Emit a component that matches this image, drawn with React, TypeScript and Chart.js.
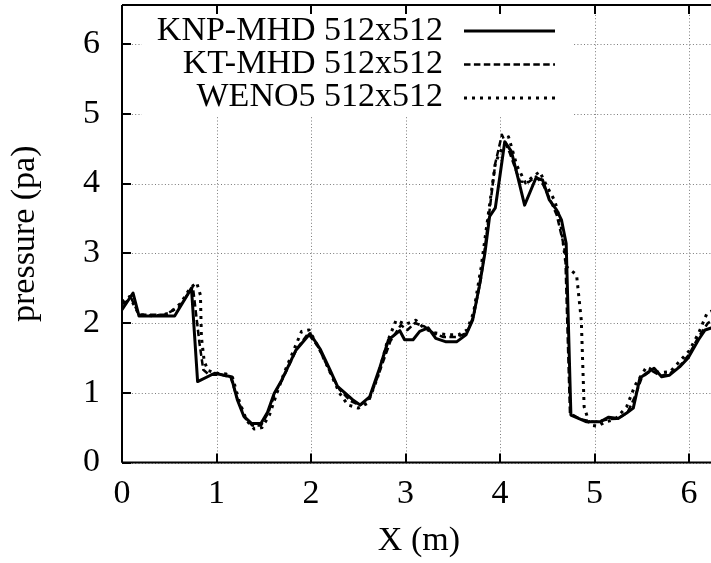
import React, { useEffect, useRef } from "react";
import { Chart, registerables } from "chart.js";

Chart.register(...registerables);

const X_MIN = 0;
const X_MAX = 2 * Math.PI;
const Y_MIN = 0;
const Y_MAX = 6.56;

const seriesLabels = ["KNP-MHD 512x512", "KT-MHD 512x512", "WENO5 512x512"];
const xTitle = "X (m)";
const yTitle = "pressure (pa)";

// KNP-MHD (solid)
const knpX = [0, 0.117, 0.18, 0.557, 0.735, 0.8, 0.98, 1.155, 1.22, 1.29, 1.37, 1.47, 1.54, 1.61, 1.69, 1.84, 1.99, 2.1, 2.2, 2.28, 2.44, 2.52, 2.62, 2.73, 2.82, 2.94, 2.99, 3.08, 3.15, 3.24, 3.32, 3.43, 3.54, 3.64, 3.71, 3.78, 3.84, 3.89, 3.95, 4.0, 4.05, 4.12, 4.19, 4.26, 4.38, 4.45, 4.52, 4.6, 4.65, 4.7, 4.75, 4.91, 5.06, 5.15, 5.25, 5.34, 5.41, 5.48, 5.55, 5.63, 5.71, 5.79, 5.9, 5.99, 6.1, 6.17, 6.2832];
const knpY = [2.19, 2.43, 2.1, 2.1, 2.5, 1.16, 1.28, 1.23, 0.9, 0.66, 0.56, 0.56, 0.72, 0.99, 1.18, 1.61, 1.85, 1.62, 1.33, 1.09, 0.9, 0.825, 0.94, 1.37, 1.76, 1.89, 1.76, 1.76, 1.88, 1.93, 1.78, 1.73, 1.73, 1.83, 2.04, 2.52, 3.0, 3.53, 3.65, 4.12, 4.6, 4.46, 4.08, 3.69, 4.08, 4.05, 3.77, 3.62, 3.48, 3.14, 0.68, 0.585, 0.585, 0.65, 0.63, 0.71, 0.78, 1.21, 1.28, 1.35, 1.23, 1.25, 1.37, 1.5, 1.76, 1.9, 1.95];

// KT-MHD (dashed)
const ktX = [0, 0.1, 0.18, 0.3, 0.45, 0.6, 0.75, 0.82, 0.86, 0.92, 1.05, 1.15, 1.22, 1.3, 1.38, 1.47, 1.55, 1.62, 1.7, 1.85, 1.97, 2.08, 2.2, 2.3, 2.42, 2.52, 2.62, 2.73, 2.84, 2.95, 3.02, 3.1, 3.2, 3.3, 3.4, 3.55, 3.65, 3.72, 3.8, 3.87, 3.95, 4.02, 4.1, 4.21, 4.3, 4.38, 4.45, 4.52, 4.6, 4.66, 4.69, 4.74, 4.85, 5.0, 5.15, 5.25, 5.35, 5.43, 5.5, 5.6, 5.7, 5.8, 5.9, 6.0, 6.1, 6.2, 6.2832];
const ktY = [2.27, 2.35, 2.12, 2.12, 2.12, 2.22, 2.52, 1.71, 1.33, 1.26, 1.26, 1.22, 0.92, 0.64, 0.53, 0.53, 0.72, 1.0, 1.2, 1.63, 1.85, 1.65, 1.3, 1.05, 0.88, 0.82, 0.92, 1.32, 1.74, 1.97, 1.9, 2.0, 1.95, 1.85, 1.8, 1.8, 1.86, 2.1, 2.65, 3.4, 4.29, 4.7, 4.45, 4.03, 4.02, 4.1, 4.0, 3.8, 3.55, 3.2, 3.0, 0.71, 0.62, 0.58, 0.62, 0.63, 0.72, 0.95, 1.22, 1.32, 1.24, 1.28, 1.38, 1.55, 1.8, 2.0, 2.07];

// WENO5 (dotted)
const wenoX = [0, 0.08, 0.18, 0.35, 0.5, 0.62, 0.72, 0.79, 0.83, 0.84, 0.87, 0.91, 1.0, 1.1, 1.17, 1.24, 1.32, 1.4, 1.48, 1.56, 1.64, 1.72, 1.82, 1.9, 1.98, 2.08, 2.2, 2.3, 2.39, 2.5, 2.6, 2.7, 2.8, 2.9, 3.0, 3.11, 3.2, 3.3, 3.45, 3.56, 3.65, 3.72, 3.8, 3.88, 3.95, 4.0, 4.09, 4.18, 4.27, 4.35, 4.42, 4.5, 4.58, 4.64, 4.7, 4.81, 4.86, 4.89, 4.95, 5.03, 5.12, 5.22, 5.34, 5.43, 5.55, 5.65, 5.71, 5.8, 5.9, 6.0, 6.1, 6.19, 6.2832];
const wenoY = [2.3, 2.38, 2.12, 2.1, 2.14, 2.28, 2.5, 2.58, 2.4, 1.8, 1.45, 1.32, 1.28, 1.27, 1.22, 0.88, 0.6, 0.48, 0.5, 0.68, 1.0, 1.3, 1.62, 1.88, 1.9, 1.65, 1.3, 1.0, 0.825, 0.78, 0.85, 1.2, 1.7, 2.04, 1.98, 2.04, 1.92, 1.86, 1.83, 1.83, 1.9, 2.15, 2.8, 3.6, 4.29, 4.45, 4.67, 4.25, 4.01, 4.1, 4.17, 3.95, 3.75, 3.45, 2.81, 2.69, 2.04, 0.8, 0.54, 0.52, 0.585, 0.62, 0.8, 1.11, 1.37, 1.3, 1.29, 1.3, 1.45, 1.6, 1.85, 2.14, 2.2];

const FONT = "'Liberation Serif', 'DejaVu Serif', serif";
const FONT_SIZE = 34;

const toPoints = (xs: number[], ys: number[]) => xs.map((x, i) => ({ x, y: ys[i] }));

const framePlugin = {
  id: "gnuplotFrame",
  beforeDatasetsDraw(chart: any) {
    const { ctx, chartArea: a, scales } = chart;
    const xs = scales.x;
    const ys = scales.y;
    ctx.save();
    // dotted grid
    ctx.strokeStyle = "#7a7a7a";
    ctx.lineWidth = 1;
    ctx.setLineDash([1, 2.3]);
    xs.ticks.forEach((t: any) => {
      const px = Math.round(xs.getPixelForValue(t.value)) + 0.5;
      ctx.beginPath();
      ctx.moveTo(px, a.top);
      ctx.lineTo(px, a.bottom);
      ctx.stroke();
    });
    ys.ticks.forEach((t: any) => {
      const py = Math.round(ys.getPixelForValue(t.value)) + 0.5;
      ctx.beginPath();
      ctx.moveTo(a.left, py);
      ctx.lineTo(a.right, py);
      ctx.stroke();
    });
    ctx.setLineDash([]);

    // legend box (opaque)
    const boxL = a.left + 20;
    const boxR = a.left + 450;
    const boxT = a.top;
    const boxB = a.top + 111;
    ctx.fillStyle = "#ffffff";
    ctx.fillRect(boxL, boxT, boxR - boxL, boxB - boxT);

    // legend entries
    const textRight = a.left + 321;
    const lineL = a.left + 342;
    const lineR = a.left + 433;
    ctx.font = `${FONT_SIZE}px ${FONT}`;
    ctx.fillStyle = "#000";
    ctx.textAlign = "right";
    ctx.textBaseline = "alphabetic";
    chart.data.datasets.forEach((ds: any, i: number) => {
      const base = a.top + 35 + i * 33;
      ctx.fillText(ds.label, textRight, base);
      const ly = a.top + 26 + i * 33.5;
      ctx.save();
      ctx.strokeStyle = "#000";
      ctx.lineWidth = ds.borderWidth;
      ctx.setLineDash(ds.borderDash || []);
      ctx.beginPath();
      ctx.moveTo(lineL, ly);
      ctx.lineTo(lineR, ly);
      ctx.stroke();
      ctx.restore();
    });

    // border and inward ticks
    ctx.strokeStyle = "#000";
    ctx.lineWidth = 2;
    ctx.beginPath();
    ctx.moveTo(a.left, a.top);
    ctx.lineTo(a.right + 20, a.top);
    ctx.moveTo(a.left, a.top);
    ctx.lineTo(a.left, a.bottom);
    ctx.moveTo(a.left, a.bottom);
    ctx.lineTo(a.right + 20, a.bottom);
    ctx.stroke();
    const tl = 9;
    ctx.beginPath();
    xs.ticks.forEach((t: any) => {
      const px = Math.round(xs.getPixelForValue(t.value));
      ctx.moveTo(px, a.bottom);
      ctx.lineTo(px, a.bottom - tl);
      ctx.moveTo(px, a.top);
      ctx.lineTo(px, a.top + tl);
    });
    ys.ticks.forEach((t: any) => {
      const py = Math.round(ys.getPixelForValue(t.value));
      ctx.moveTo(a.left, py);
      ctx.lineTo(a.left + tl, py);
    });
    ctx.stroke();
    ctx.restore();
  },
};

export default function App() {
  const ref = useRef<HTMLCanvasElement | null>(null);
  useEffect(() => {
    if (!ref.current) return;
    const chart = new Chart(ref.current, {
      type: "line",
      data: {
        datasets: [
          {
            label: seriesLabels[0],
            data: toPoints(knpX, knpY),
            borderColor: "#000",
            borderWidth: 3,
            borderDash: [],
            pointRadius: 0,
            tension: 0,
            borderJoinStyle: "round",
          },
          {
            label: seriesLabels[1],
            data: toPoints(ktX, ktY),
            borderColor: "#000",
            borderWidth: 2.5,
            borderDash: [6.5, 3.4],
            pointRadius: 0,
            tension: 0,
            borderJoinStyle: "round",
          },
          {
            label: seriesLabels[2],
            data: toPoints(wenoX, wenoY),
            borderColor: "#000",
            borderWidth: 3,
            borderDash: [3, 5],
            pointRadius: 0,
            tension: 0,
            borderJoinStyle: "round",
          },
        ],
      } as any,
      options: {
        responsive: false,
        animation: false,
        devicePixelRatio: 1,
        layout: { padding: { top: 5, right: 14.2, left: 0, bottom: 0 } },
        plugins: { legend: { display: false }, tooltip: { enabled: false } },
        scales: {
          x: {
            type: "linear",
            min: X_MIN,
            max: X_MAX,
            grid: { display: false, drawTicks: false },
            border: { display: false },
            ticks: {
              stepSize: 1,
              includeBounds: false,
              padding: 11,
              color: "#000",
              font: { family: FONT, size: FONT_SIZE },
              maxRotation: 0,
              callback: (v: any) => String(v),
            },
            title: {
              display: true,
              text: xTitle,
              color: "#000",
              font: { family: FONT, size: FONT_SIZE },
              padding: { top: 0, bottom: 2 },
            },
            afterFit: (s: any) => {
              s.height = 100.5;
              s.paddingLeft = 0;
              s.paddingRight = 0;
            },
          },
          y: {
            type: "linear",
            min: Y_MIN,
            max: Y_MAX,
            grid: { display: false, drawTicks: false },
            border: { display: false },
            ticks: {
              stepSize: 1,
              includeBounds: false,
              padding: 22,
              color: "#000",
              font: { family: FONT, size: FONT_SIZE },
              callback: (v: any) => String(v),
            },
            title: {
              display: true,
              text: yTitle,
              color: "#000",
              font: { family: FONT, size: FONT_SIZE },
              padding: { top: 5, bottom: 0 },
            },
            afterFit: (s: any) => {
              s.width = 122;
              s.paddingTop = 0;
              s.paddingBottom = 0;
            },
          },
        },
      } as any,
      plugins: [framePlugin],
    });
    return () => chart.destroy();
  }, []);

  return (
    <div
      style={{
        position: "fixed",
        left: 0,
        top: 0,
        width: 711,
        height: 563,
        overflow: "hidden",
        background: "#fff",
      }}
    >
      <canvas ref={ref} width={730} height={563} style={{ width: 730, height: 563, display: "block" }} />
    </div>
  );
}
